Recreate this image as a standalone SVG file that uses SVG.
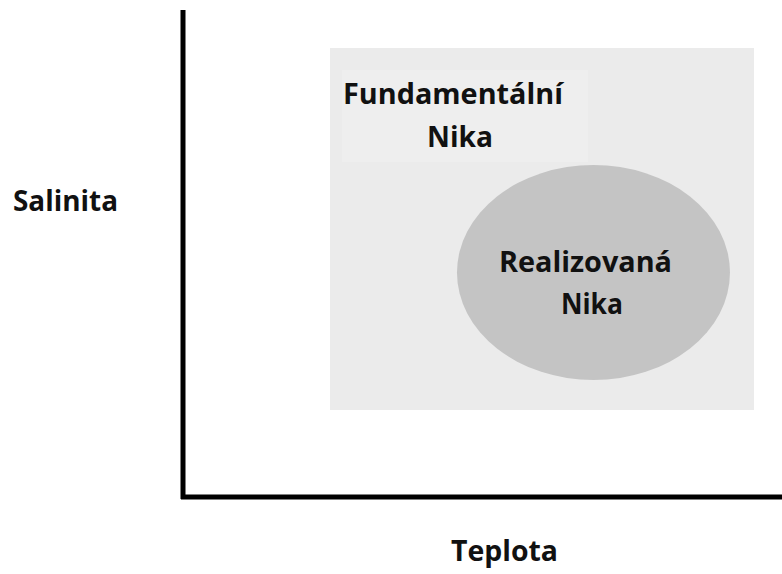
<svg xmlns="http://www.w3.org/2000/svg" width="782" height="574" viewBox="0 0 782 574">
<style>
.t{font-family:"Open Sans","Liberation Sans",sans-serif;font-weight:bold;font-size:29px;fill:#111;text-anchor:middle}
.ax{stroke:#000;stroke-width:5;fill:none}
</style>
<rect width="782" height="574" fill="#fff"/>
<g id="axes">
<line class="ax" x1="183" y1="10" x2="183" y2="499"/>
<line class="ax" x1="181" y1="497" x2="782" y2="497"/>
</g>
<g id="fundamental">
<rect x="330" y="48" width="424" height="362" fill="#ebebeb"/>
<rect x="342" y="70" width="246" height="92" fill="#eeeeee"/>
<text class="t" x="453" y="104" textLength="220" lengthAdjust="spacingAndGlyphs">Fundamentální</text>
<text class="t" x="460" y="147" textLength="66" lengthAdjust="spacingAndGlyphs">Nika</text>
</g>
<g id="realized">
<ellipse cx="593.5" cy="272.5" rx="136.5" ry="107.5" fill="#c4c4c4"/>
<text class="t" x="585.5" y="272" textLength="173" lengthAdjust="spacingAndGlyphs">Realizovaná</text>
<text class="t" x="592" y="314" textLength="62" lengthAdjust="spacingAndGlyphs">Nika</text>
</g>
<g id="labels">
<text class="t" x="65.5" y="211" textLength="105" lengthAdjust="spacingAndGlyphs">Salinita</text>
<text class="t" x="504.5" y="561" textLength="107" lengthAdjust="spacingAndGlyphs">Teplota</text>
</g>
<g id="connectors"></g>
</svg>
